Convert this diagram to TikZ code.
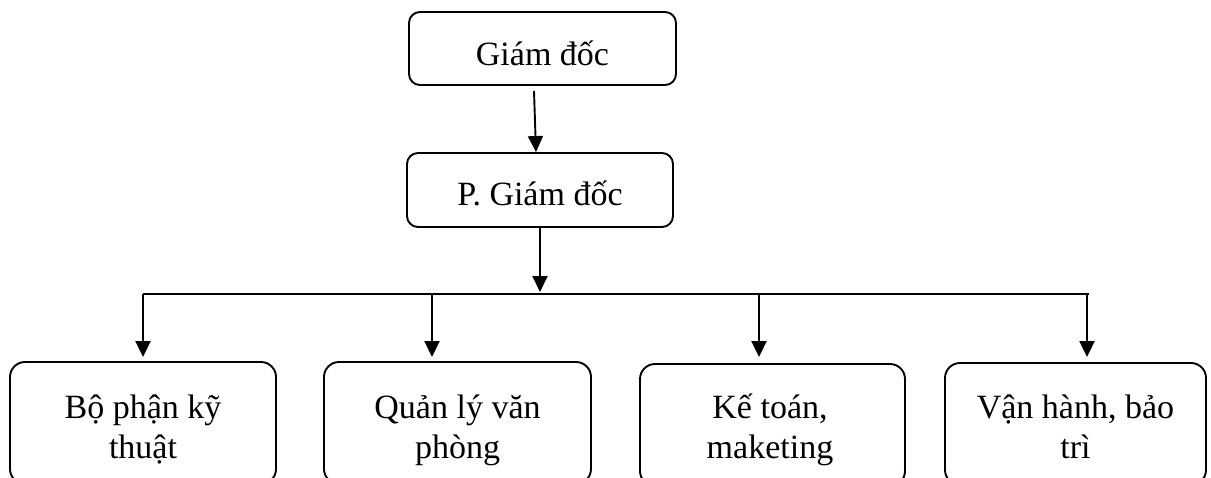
\documentclass[tikz,border=0pt]{standalone}
\usepackage{fontspec}
\setmainfont{Liberation Serif}
\usetikzlibrary{arrows.meta}
\begin{document}
\begin{tikzpicture}[x=1pt,y=-1pt,
  box/.style={draw, line width=1.9pt, rounded corners=11pt, inner sep=0pt, font=\fontsize{34}{40}\selectfont},
  lowbox/.style={draw, line width=1.9pt, rounded corners=15pt, inner sep=0pt, minimum height=122pt},
  lbl/.style={anchor=base, inner sep=0pt, font=\fontsize{34}{40}\selectfont},
  arr/.style={line width=1.9pt, -{Triangle[length=16pt,width=15pt]}},
  bus/.style={line width=1.9pt}]
\useasboundingbox (0,0) rectangle (1211,477);
\clip (0,0) rectangle (1211,477);
\node[box, minimum width=267pt, minimum height=73pt, text height=33pt, text depth=0pt] (gd) at (542.5,48.5) {Giám đốc};
\node[box, minimum width=266pt, minimum height=74pt, text height=30pt, text depth=0pt] (pgd) at (540,190) {P. Giám đốc};
\node[lowbox, minimum width=266pt] (b1) at (143,423) {};
\node[lowbox, minimum width=267pt] (b2) at (457.5,423) {};
\node[lowbox, minimum width=265pt] (b3) at (772.5,425) {};
\node[lowbox, minimum width=261pt] (b4) at (1075.5,424) {};
\node[lbl] (t1) at (143,418) {\begin{tabular}[t]{@{}c@{}}Bộ phận kỹ\\thuật\end{tabular}};
\node[lbl] (t2) at (457.5,418) {\begin{tabular}[t]{@{}c@{}}Quản lý văn\\phòng\end{tabular}};
\node[lbl] (t3) at (770,418) {\begin{tabular}[t]{@{}c@{}}Kế toán,\\maketing\end{tabular}};
\node[lbl] (t4) at (1075.5,418) {\begin{tabular}[t]{@{}c@{}}Vận hành, bảo\\trì\end{tabular}};
\coordinate (j1) at (143,294);
\coordinate (j2) at (432,294);
\coordinate (jm) at (540,294);
\coordinate (j3) at (759,294);
\coordinate (j4) at (1087,294);
\coordinate (jend) at (1089,294);
\draw[arr] ([xshift=-8.5pt,yshift=-5pt]gd.south) -- ([xshift=-4pt]pgd.north);
\draw[arr] (pgd.south) -- ([yshift=2pt]jm);
\draw[bus] (j1) -- (jend);
\draw[arr, shorten >=4pt] (j1) -- (j1 |- b1.north);
\draw[arr, shorten >=4pt] (j2) -- (j2 |- b2.north);
\draw[arr, shorten >=6pt] (j3) -- (j3 |- b3.north);
\draw[arr, shorten >=5pt] (j4) -- (j4 |- b4.north);
\end{tikzpicture}
\end{document}
